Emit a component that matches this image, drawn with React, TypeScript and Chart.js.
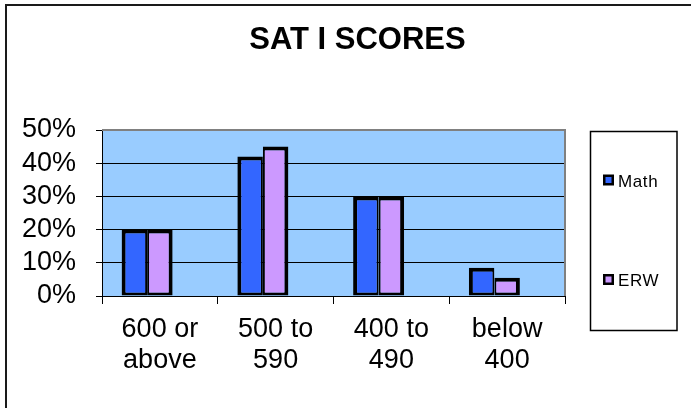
import React, { useEffect, useRef } from "react";
import { Chart, registerables } from "chart.js";

Chart.register(...registerables);

const TITLE = "SAT I SCORES";
const categories: string[][] = [
  ["600 or", "above"],
  ["500 to", "590"],
  ["400 to", "490"],
  ["below", "400"],
];
const mathValues = [20, 42, 30, 8.5];
const erwValues = [20, 45, 30, 5.5];
// Excel reserved an empty third series slot in each group
const emptyValues: (number | null)[] = [null, null, null, null];
const yTicks = [0, 10, 20, 30, 40, 50];

const FONT = '"Liberation Sans", Arial, sans-serif';
const MATH_COLOR = "#3366FF";
const ERW_COLOR = "#CC99FF";
const PLOT_BG = "#99CCFF";

const decorPlugin = {
  id: "decor",
  beforeDraw(chart: any) {
    const { ctx, chartArea } = chart;
    ctx.save();
    ctx.fillStyle = "#ffffff";
    ctx.fillRect(0, 0, chart.width, chart.height);
    // outer border (only left and top visible in the frame)
    ctx.strokeStyle = "#1a1a1a";
    ctx.lineWidth = 2;
    ctx.beginPath();
    ctx.moveTo(6, chart.height + 5);
    ctx.lineTo(6, 5);
    ctx.lineTo(chart.width + 5, 5);
    ctx.stroke();
    // plot background
    ctx.fillStyle = PLOT_BG;
    ctx.fillRect(chartArea.left, chartArea.top, chartArea.right - chartArea.left, chartArea.bottom - chartArea.top);
    ctx.restore();
  },
  afterDatasetsDraw(chart: any) {
    const { ctx, chartArea } = chart;
    ctx.save();
    ctx.strokeStyle = "#808080";
    ctx.lineWidth = 2;
    ctx.beginPath();
    ctx.moveTo(chartArea.left, chartArea.top);
    ctx.lineTo(chartArea.right, chartArea.top);
    ctx.lineTo(chartArea.right, chartArea.bottom);
    ctx.stroke();
    ctx.restore();
  },
  afterDraw(chart: any) {
    const { ctx } = chart;
    ctx.save();
    // title
    ctx.fillStyle = "#000";
    ctx.font = `bold 31px ${FONT}`;
    ctx.textAlign = "center";
    ctx.textBaseline = "alphabetic";
    ctx.fillText(TITLE, 357.5, 48.5);
    // legend box
    ctx.strokeStyle = "#000";
    ctx.lineWidth = 1.5;
    ctx.strokeRect(590.5, 131.5, 86.5, 199);
    const items = chart.data.datasets.filter((d: any) => d.label);
    const ys = [180, 279.5];
    items.forEach((d: any, i: number) => {
      const cy = ys[i];
      ctx.fillStyle = "#000";
      ctx.fillRect(603, cy - 5.5, 11, 11);
      ctx.fillStyle = d.backgroundColor;
      ctx.fillRect(605.5, cy - 3, 6, 6);
      ctx.fillStyle = "#000";
      ctx.font = `17px ${FONT}`;
      (ctx as any).letterSpacing = "0.6px";
      ctx.textAlign = "left";
      ctx.fillText(d.label, 618, cy + 6.5);
      (ctx as any).letterSpacing = "0px";
    });
    ctx.restore();
  },
};

export default function App() {
  const ref = useRef<HTMLCanvasElement>(null);
  useEffect(() => {
    if (!ref.current) return;
    const chart = new Chart(ref.current, {
      type: "bar",
      data: {
        labels: categories,
        datasets: [
          {
            label: "Math",
            data: mathValues,
            backgroundColor: MATH_COLOR,
            borderColor: "#000",
            borderWidth: { top: 4, left: 4, right: 2, bottom: 3 },
            borderSkipped: false,
          },
          {
            label: "ERW",
            data: erwValues,
            backgroundColor: ERW_COLOR,
            borderColor: "#000",
            borderWidth: { top: 4, left: 2, right: 4, bottom: 3 },
            borderSkipped: false,
          },
          {
            label: "",
            data: emptyValues,
            backgroundColor: "rgba(0,0,0,0)",
          },
        ],
      },
      options: {
        animation: false,
        responsive: false,
        devicePixelRatio: 1,
        layout: { padding: { left: 0, top: 130, right: 126, bottom: 0 } },
        datasets: { bar: { categoryPercentage: 0.661, barPercentage: 1 } },
        plugins: { legend: { display: false }, title: { display: false }, tooltip: { enabled: false } },
        scales: {
          x: {
            afterFit: (s: any) => { s.height = 112; },
            grid: { offset: true, drawOnChartArea: false, drawTicks: true, tickLength: 8, color: "#000", lineWidth: 1 },
            border: { display: true, color: "#000", width: 1 },
            ticks: { color: "#000", font: { family: FONT, size: 27, lineHeight: 1.15 }, padding: 10, maxRotation: 0, autoSkip: false },
          },
          y: {
            min: 0,
            max: 50,
            afterFit: (s: any) => { s.width = 102; },
            afterBuildTicks: (s: any) => { s.ticks = yTicks.map((v) => ({ value: v })); },
            grid: { color: "#000", lineWidth: 1, drawTicks: true, tickLength: 6 },
            border: { display: true, color: "#000", width: 1 },
            ticks: { color: "#000", font: { family: FONT, size: 27 }, padding: 20, autoSkip: false, callback: (v: any) => `${v}%` },
          },
        },
      },
      plugins: [decorPlugin],
    });
    return () => chart.destroy();
  }, []);
  return (
    <div style={{ position: "fixed", left: 0, top: 0, width: 691, height: 408, background: "#fff" }}>
      <canvas ref={ref} width={691} height={408} style={{ width: 691, height: 408, display: "block" }} />
    </div>
  );
}
